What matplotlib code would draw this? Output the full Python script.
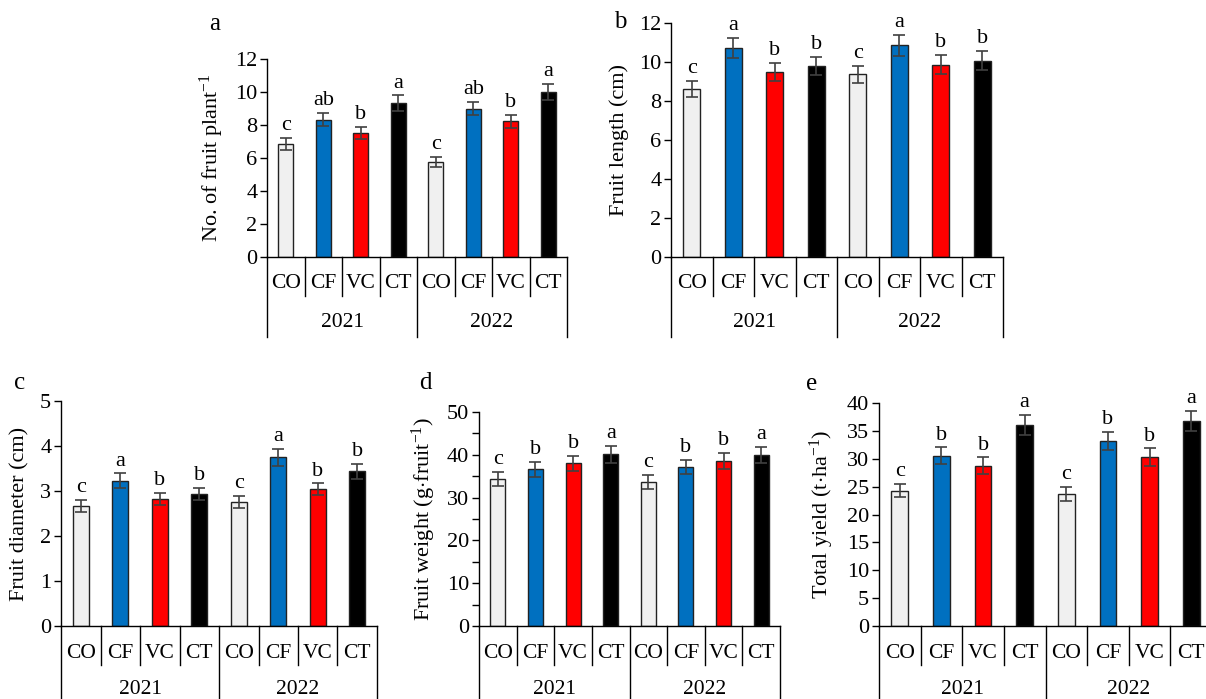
import matplotlib

matplotlib.use("Agg")
import matplotlib.pyplot as plt
from matplotlib.ticker import MultipleLocator

plt.rcParams["font.family"] = ["Liberation Serif", "DejaVu Serif"]
plt.rcParams["mathtext.fontset"] = "custom"
plt.rcParams["mathtext.rm"] = "Liberation Serif"
plt.rcParams["mathtext.it"] = "Liberation Serif:italic"

W, H = 1206, 699

treatments = ["CO", "CF", "VC", "CT"]
years = ["2021", "2022"]
bar_colors = ["#f0f0f0", "#0070c0", "#ff0000", "#000000"]

# a) number of fruit per plant
fruit_no = [6.85, 8.32, 7.52, 9.33, 5.77, 8.99, 8.22, 10.0]
fruit_no_err = [0.36, 0.4, 0.36, 0.47, 0.3, 0.4, 0.4, 0.48]
fruit_no_sig = ["c", "ab", "b", "a", "c", "ab", "b", "a"]

# b) fruit length (cm)
fruit_len = [8.64, 10.72, 9.48, 9.8, 9.36, 10.86, 9.87, 10.07]
fruit_len_err = [0.41, 0.51, 0.47, 0.46, 0.44, 0.53, 0.49, 0.5]
fruit_len_sig = ["c", "a", "b", "b", "c", "a", "b", "b"]

# c) fruit diameter (cm)
fruit_dia = [2.67, 3.23, 2.82, 2.93, 2.76, 3.75, 3.04, 3.44]
fruit_dia_err = [0.14, 0.16, 0.14, 0.14, 0.14, 0.19, 0.13, 0.17]
fruit_dia_sig = ["c", "a", "b", "b", "c", "a", "b", "b"]

# d) fruit weight (g/fruit)
fruit_wt = [34.3, 36.6, 38.0, 40.1, 33.6, 37.15, 38.5, 39.95]
fruit_wt_err = [1.63, 1.8, 1.8, 1.95, 1.63, 1.7, 1.87, 1.95]
fruit_wt_sig = ["c", "b", "b", "a", "c", "b", "b", "a"]

# e) total yield (t/ha)
total_yield = [24.25, 30.54, 28.74, 36.05, 23.7, 33.23, 30.3, 36.77]
total_yield_err = [1.2, 1.5, 1.5, 1.75, 1.2, 1.6, 1.56, 1.85]
total_yield_sig = ["c", "b", "b", "a", "c", "b", "b", "a"]

# panel layout in pixels: (left, top, right, bottom) of the plotting area
panels = [
    dict(tag="a", box=(267, 59, 567, 257), ymax=12, major=2, minor=None,
         ylabel=r"No. of fruit plant$^{-1}$", ylab_x=215, tag_xy=(215, 24),
         vals=fruit_no, errs=fruit_no_err, sig=fruit_no_sig),
    dict(tag="b", box=(671, 23, 1003, 257), ymax=12, major=2, minor=None,
         ylabel="Fruit length (cm)", ylab_x=618, tag_xy=(620, 22),
         vals=fruit_len, errs=fruit_len_err, sig=fruit_len_sig),
    dict(tag="c", box=(61, 401, 377, 626), ymax=5, major=1, minor=None,
         ylabel="Fruit diameter (cm)", ylab_x=18, tag_xy=(20, 383),
         vals=fruit_dia, errs=fruit_dia_err, sig=fruit_dia_sig),
    dict(tag="d", box=(479, 412, 780, 626), ymax=50, major=10, minor=5,
         ylabel=r"Fruit weight (g$\cdot$fruit$^{-1}$)", ylab_x=427, tag_xy=(425, 383),
         vals=fruit_wt, errs=fruit_wt_err, sig=fruit_wt_sig),
    dict(tag="e", box=(879, 403, 1212, 626), ymax=40, major=5, minor=None,
         ylabel=r"Total yield (t$\cdot$ha$^{-1}$)", ylab_x=825, tag_xy=(812, 384),
         vals=total_yield, errs=total_yield_err, sig=total_yield_sig),
]

fig = plt.figure(figsize=(W / 100, H / 100), dpi=100)
fig.patch.set_facecolor("white")

for p in panels:
    left, top, right, bottom = p["box"]
    ax = fig.add_axes([left / W, 1 - bottom / H, (right - left) / W, (bottom - top) / H])
    h_px = bottom - top
    w_px = right - left
    n = len(p["vals"])
    x = list(range(n))
    colors = [bar_colors[i % 4] for i in x]

    ax.bar(x, p["vals"], width=0.4, color=colors, edgecolor="#222222", linewidth=1.0, zorder=2)
    ax.errorbar(x, p["vals"], yerr=p["errs"], fmt="none", ecolor="#404040",
                elinewidth=1.2, capsize=4.5, capthick=1.2, zorder=3)
    for xi, v, e, s in zip(x, p["vals"], p["errs"], p["sig"]):
        ax.annotate(s, (xi, v + e), xytext=(0, 2), textcoords="offset points",
                    ha="center", va="bottom", fontsize=16)

    ax.set_xlim(-0.5, n - 0.5)
    ax.set_ylim(0, p["ymax"])
    ax.yaxis.set_major_locator(MultipleLocator(p["major"]))
    if p["minor"]:
        ax.yaxis.set_minor_locator(MultipleLocator(p["minor"]))
    ax.tick_params(axis="y", direction="out", length=5, width=1.0, labelsize=16, pad=2)
    ax.tick_params(axis="y", which="minor", direction="out", length=5, width=1.0)
    ax.tick_params(axis="x", bottom=False, labelbottom=False)
    for side in ("top", "right"):
        ax.spines[side].set_visible(False)
    for side in ("left", "bottom"):
        ax.spines[side].set_linewidth(1.0)

    # label anchor is its edge nearest the axis, so shift by half the text height
    ax.set_ylabel(p["ylabel"], fontsize=16)
    ax.yaxis.set_label_coords((p["ylab_x"] + 11 - left) / w_px, 0.5)

    # grouped category axis below the plot
    tr = ax.get_xaxis_transform()
    short = -39 / h_px
    long = -80 / h_px
    for i in range(1, n):
        if i == n // 2:
            continue
        ax.plot([i - 0.5] * 2, [0, short], transform=tr, color="black", lw=1.0, clip_on=False)
    for xx in (-0.5, n / 2 - 0.5, n - 0.5):
        ax.plot([xx] * 2, [0, long], transform=tr, color="black", lw=1.0, clip_on=False)
    for i in x:
        ax.text(i, -27 / h_px, treatments[i % 4], transform=tr, ha="center", va="center", fontsize=15.5)
    year_off = -66 if bottom < 400 else -63
    for k, yr in enumerate(years):
        ax.text(k * 4 + 1.5, year_off / h_px, yr, transform=tr, ha="center", va="center", fontsize=15.5)

    fig.text(p["tag_xy"][0] / W, 1 - p["tag_xy"][1] / H, p["tag"], ha="center", va="center", fontsize=18)

fig.savefig("out.png", dpi=100, facecolor="white")
